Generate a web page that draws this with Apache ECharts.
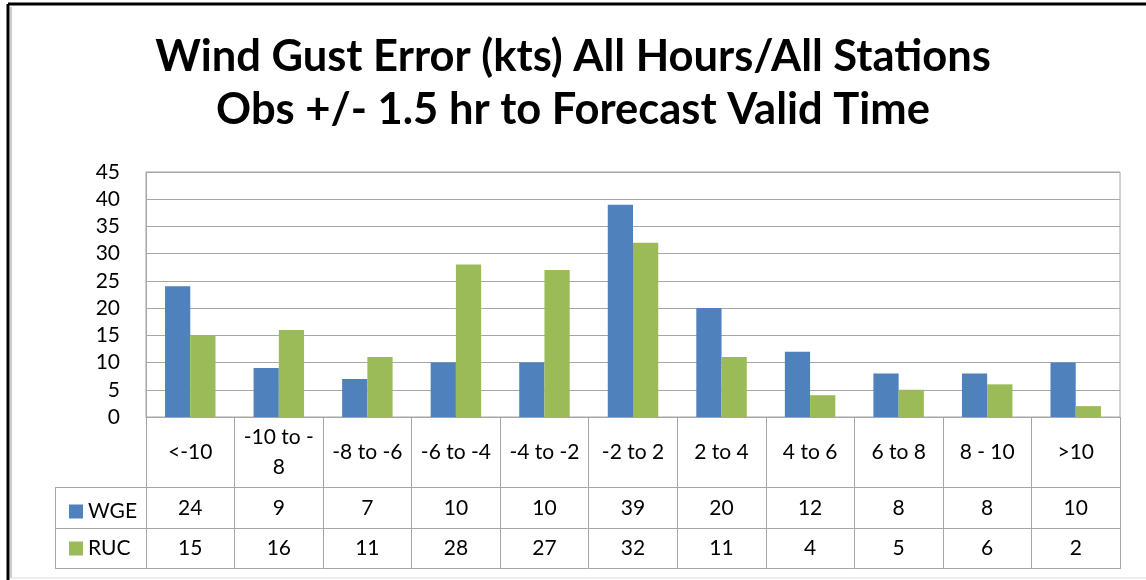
<!DOCTYPE html>
<html>
<head>
<meta charset="utf-8">
<script src="https://cdn.jsdelivr.net/npm/echarts@6/dist/echarts.min.js"></script>
<style>
html,body{margin:0;padding:0;background:#fff;}
#chart{width:1146px;height:580px;}
</style>
</head>
<body>
<div id="chart"></div>
<script>
var titleLines = ['Wind Gust Error (kts) All Hours/All Stations', 'Obs +/- 1.5 hr to Forecast Valid Time'];
var categories = ['<-10', '-10 to -8', '-8 to -6', '-6 to -4', '-4 to -2', '-2 to 2', '2 to 4', '4 to 6', '6 to 8', '8 - 10', '>10'];
var seriesNames = ['WGE', 'RUC'];
var wge = [24, 9, 7, 10, 10, 39, 20, 12, 8, 8, 10];
var ruc = [15, 16, 11, 28, 27, 32, 11, 4, 5, 6, 2];
var yTicks = { min: 0, max: 45, interval: 5 };

var FONT = 'Lato, "Open Sans", sans-serif';
var GRAY = '#a6a6a6';
var FS = 21;
var gridRect = { left: 146, right: 26, top: 172, bottom: 163 };

function wrapCat(v) { return v === '-10 to -8' ? '-10 to -\n8' : v; }

var chart = echarts.init(document.getElementById('chart'));
var option = {
  animation: false,
  backgroundColor: '#fff',
  textStyle: { fontFamily: FONT },
  title: {
    text: titleLines.join('\n'),
    left: 'center',
    top: 25,
    textStyle: { fontFamily: FONT, fontWeight: 'bold', fontSize: 43.5, lineHeight: 53, color: '#000' }
  },
  legend: {
    orient: 'vertical',
    left: 64,
    top: 496,
    itemWidth: 14,
    itemHeight: 14,
    itemGap: 16,
    icon: 'rect',
    data: seriesNames,
    textStyle: { fontFamily: FONT, fontSize: FS, color: '#000' },
    selectedMode: false
  },
  grid: [
    Object.assign({ show: true, borderColor: GRAY, borderWidth: 1 }, gridRect),
    Object.assign({ show: false }, gridRect),
    Object.assign({ show: false }, gridRect)
  ],
  xAxis: [
    {
      type: 'category', gridIndex: 0, data: categories,
      axisLine: { show: true, lineStyle: { color: GRAY } },
      axisTick: { show: true, length: 152, interval: 0, lineStyle: { color: GRAY } },
      axisLabel: { interval: 0, margin: 35, verticalAlign: 'middle', fontSize: FS, color: '#000', fontFamily: FONT, lineHeight: 30, formatter: wrapCat }
    },
    {
      type: 'category', gridIndex: 1, data: wge.map(String),
      axisLine: { show: false }, axisTick: { show: false },
      axisLabel: { interval: 0, margin: 91, verticalAlign: 'middle', fontSize: FS, color: '#000', fontFamily: FONT }
    },
    {
      type: 'category', gridIndex: 2, data: ruc.map(String),
      axisLine: { show: false }, axisTick: { show: false },
      axisLabel: { interval: 0, margin: 131, verticalAlign: 'middle', fontSize: FS, color: '#000', fontFamily: FONT }
    }
  ],
  yAxis: [
    {
      type: 'value', gridIndex: 0, min: yTicks.min, max: yTicks.max, interval: yTicks.interval,
      axisLine: { show: true, lineStyle: { color: GRAY } },
      axisTick: { show: false },
      splitLine: { show: true, lineStyle: { color: GRAY } },
      axisLabel: { fontSize: FS, color: '#000', margin: 26, fontFamily: FONT }
    },
    { type: 'value', gridIndex: 1, show: false, splitLine: { show: false } },
    { type: 'value', gridIndex: 2, show: false, splitLine: { show: false } }
  ],
  series: [
    { name: seriesNames[0], type: 'bar', xAxisIndex: 0, yAxisIndex: 0, data: wge, barGap: '0%', barCategoryGap: '43%', itemStyle: { color: '#4F81BD' } },
    { name: seriesNames[1], type: 'bar', xAxisIndex: 0, yAxisIndex: 0, data: ruc, barGap: '0%', barCategoryGap: '43%', itemStyle: { color: '#9BBB59' } }
  ],
  graphic: [
    { type: 'line', shape: { x1: 8, y1: 4, x2: 1146, y2: 4 }, style: { stroke: '#000', lineWidth: 3 } },
    { type: 'line', shape: { x1: 8, y1: 4, x2: 8, y2: 580 }, style: { stroke: '#000', lineWidth: 3 } },
    { type: 'line', shape: { x1: 11, y1: 7, x2: 11, y2: 578 }, style: { stroke: '#999', lineWidth: 1 } },
    { type: 'line', shape: { x1: 11, y1: 578, x2: 1146, y2: 578 }, style: { stroke: '#ddd', lineWidth: 1 } },
    { type: 'line', shape: { x1: 55, y1: 487.5, x2: 1120, y2: 487.5 }, style: { stroke: GRAY, lineWidth: 1 } },
    { type: 'line', shape: { x1: 55, y1: 528.5, x2: 1120, y2: 528.5 }, style: { stroke: GRAY, lineWidth: 1 } },
    { type: 'line', shape: { x1: 55, y1: 568.5, x2: 1120, y2: 568.5 }, style: { stroke: GRAY, lineWidth: 1 } },
    { type: 'line', shape: { x1: 55.5, y1: 487.5, x2: 55.5, y2: 568.5 }, style: { stroke: GRAY, lineWidth: 1 } }
  ]
};
chart.setOption(option);
</script>
</body>
</html>
